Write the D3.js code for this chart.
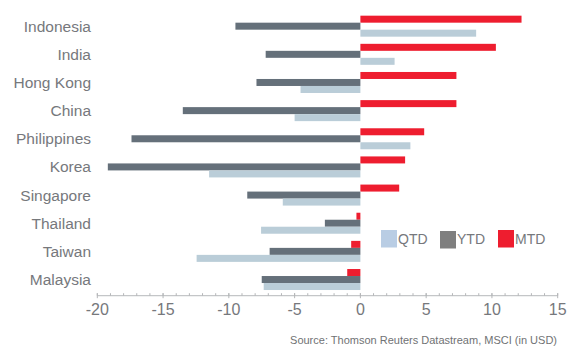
<!DOCTYPE html>
<html>
<head>
<meta charset="utf-8">
<script src="https://cdn.jsdelivr.net/npm/d3@7"></script>
<style>
  html, body { margin: 0; padding: 0; background: #fff; }
  svg { display: block; font-family: "Liberation Sans", Arial, sans-serif; }
</style>
</head>
<body>
<svg id="chart" width="569" height="349"></svg>
<script>
// Market returns (%), in USD
const countries = ["Indonesia", "India", "Hong Kong", "China", "Philippines",
                   "Korea", "Singapore", "Thailand", "Taiwan", "Malaysia"];
const mtd = [12.25, 10.3, 7.3, 7.3, 4.85, 3.4, 2.95, -0.3, -0.7, -1.0];
const ytd = [-9.5, -7.2, -7.9, -13.5, -17.4, -19.2, -8.6, -2.7, -6.9, -7.5];
const qtd = [8.8, 2.6, -4.55, -5.0, 3.8, -11.5, -5.9, -7.55, -12.45, -7.35];
const seriesNames = ["MTD", "YTD", "QTD"];
const legendOrder = ["QTD", "YTD", "MTD"];
const xTicks = [-20, -15, -10, -5, 0, 5, 10, 15];
const sourceNote = "Source: Thomson Reuters Datastream, MSCI (in USD)";

const barColor = { MTD: "#ee1d2f", YTD: "#65707a", QTD: "#bacdd8" };
const swatchColor = { MTD: "#ee1d2f", YTD: "#7f7f7f", QTD: "#b9cde4" };

const rows = countries.map((c, i) => ({ country: c, MTD: mtd[i], YTD: ytd[i], QTD: qtd[i] }));

const svg = d3.select("#chart");

const x = d3.scaleLinear().domain([-20, 15]).range([97.3, 557.7]);
const y = d3.scaleBand().domain(countries).range([12.1, 293.6])
  .paddingInner(0.254).paddingOuter(0.127);
const ySub = d3.scaleBand().domain(seriesNames).range([0, y.bandwidth()]);

// Bars
const groups = svg.append("g").selectAll("g").data(rows).join("g")
  .attr("transform", d => `translate(0,${y(d.country)})`);

groups.selectAll("rect")
  .data(d => seriesNames.map(s => ({ s, v: d[s] })))
  .join("rect")
  .attr("x", d => x(Math.min(0, d.v)))
  .attr("width", d => Math.abs(x(d.v) - x(0)))
  .attr("y", d => ySub(d.s))
  .attr("height", ySub.bandwidth())
  .attr("fill", d => barColor[d.s]);

// Category labels
svg.append("g").selectAll("text").data(countries).join("text")
  .attr("x", 91)
  .attr("y", d => y(d) + y.bandwidth() / 2)
  .attr("dy", "0.35em")
  .attr("text-anchor", "end")
  .attr("font-size", 15.5)
  .attr("fill", "#76787c")
  .text(d => d);

// X axis with minor ticks every unit
const axisY = 295.7;
const ax = svg.append("g").attr("transform", `translate(0,${axisY})`);
ax.append("line").attr("x1", x(-20)).attr("x2", x(15))
  .attr("stroke", "#c4c6c8").attr("stroke-width", 1.2);
ax.selectAll("line.minor").data(d3.range(-20, 16, 1)).join("line")
  .attr("class", "minor")
  .attr("x1", d => x(d)).attr("x2", d => x(d))
  .attr("y1", -2.5).attr("y2", 0)
  .attr("stroke", "#b4b6b8").attr("stroke-width", 1);
ax.selectAll("line.major").data(xTicks).join("line")
  .attr("class", "major")
  .attr("x1", d => x(d)).attr("x2", d => x(d))
  .attr("y1", -2.5).attr("y2", 2.5)
  .attr("stroke", "#b4b6b8").attr("stroke-width", 1);
ax.selectAll("text").data(xTicks).join("text")
  .attr("x", d => x(d))
  .attr("y", 19.5)
  .attr("text-anchor", "middle")
  .attr("font-size", 16)
  .attr("fill", "#76787c")
  .text(d => d);

// Legend
const legendPos = { QTD: 381, YTD: 440, MTD: 498 };
const lg = svg.append("g");
legendOrder.forEach(s => {
  lg.append("rect")
    .attr("x", legendPos[s]).attr("y", s === "YTD" ? 231 : 230)
    .attr("width", 16).attr("height", 17.5)
    .attr("fill", swatchColor[s]);
  lg.append("text")
    .attr("x", legendPos[s] + 17).attr("y", 239)
    .attr("dy", "0.35em")
    .attr("font-size", 14)
    .attr("fill", "#76787c")
    .text(s);
});

// Source note
svg.append("text")
  .attr("x", 557).attr("y", 344)
  .attr("text-anchor", "end")
  .attr("font-size", 11)
  .attr("fill", "#707274")
  .text(sourceNote);
</script>
</body>
</html>
